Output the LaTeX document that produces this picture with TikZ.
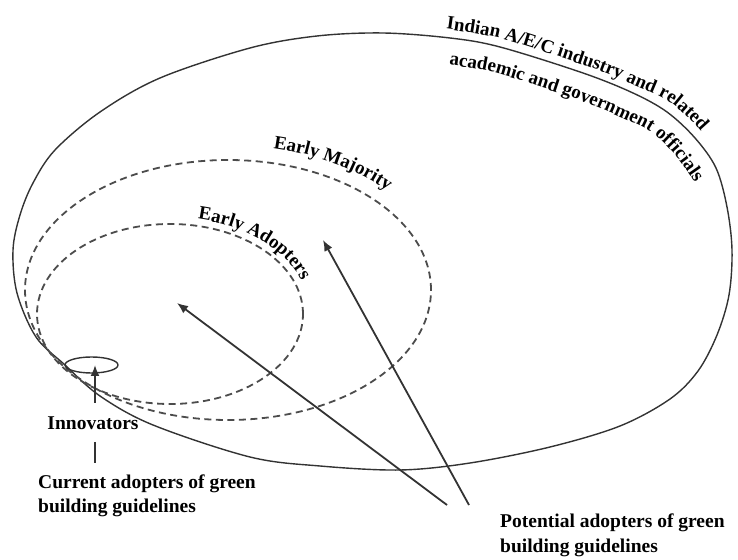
\documentclass[tikz,border=0pt]{standalone}
\usepackage{fontspec}
\setmainfont{Liberation Serif}
\usetikzlibrary{arrows.meta,shapes.geometric,decorations.text}
\begin{document}
\begin{tikzpicture}[x=1pt,y=1pt,
  solidline/.style={line width=1.4pt, draw=black!80},
  dashline/.style={line width=1.8pt, draw=black!70, dash pattern=on 7pt off 4.5pt},
  arrowline/.style={line width=1.8pt, draw=black!80, -{Latex[length=11pt,width=9pt]}},
  plainline/.style={line width=1.8pt, draw=black!80},
  lbl/.style={font=\fontsize{19.5}{24}\selectfont\bfseries, inner sep=0pt},
  curvetext/.style={decorate, decoration={text along path, text={|\fontsize{19}{19}\selectfont\bfseries|#1}}},
  ]
\useasboundingbox (0,0) rectangle (738,559);

% outer population boundary
\draw[solidline] plot[smooth cycle, tension=0.55] coordinates {
  (13,309) (20,344) (33,376) (55,409) (100,447) (160,481) (250,511) (317,523)
  (383,526) (450,521) (500,512) (583,486) (633,466) (667,447) (695,421)
  (716,391) (727,352) (732,309) (729,264) (717,224) (698,188) (670,160)
  (620,133) (550,112) (470,96) (400,89) (320,93) (250,102) (153,134)
  (100,163) (65,194) (36,222) (17,266)};

% Early Majority and Early Adopters
\draw[dashline] (228,269) ellipse [x radius=203pt, y radius=130pt];
\draw[dashline] (170,245) ellipse [x radius=133pt, y radius=90pt];

% Innovators
\node[ellipse, solidline, minimum width=53pt, minimum height=16pt, inner sep=0pt] (innell) at (91.5,194) {};

% curved labels
\path[curvetext={Indian A/E/C industry and related}] plot[smooth] coordinates {
  (446,530) (502,520) (586,493) (636,473) (671,456) (706,421) (740,365)};
\path[curvetext={academic and government officials}] plot[smooth] coordinates {
  (449,494) (495,486) (573,461) (622,441) (652,426) (679,399) (708,352) (711,299)};
\path[curvetext={Early Majority}] (228,269) ++(78:218pt and 145pt)
  arc[start angle=78, end angle=5, x radius=218pt, y radius=145pt];
\path[curvetext={Early Adopters}] (170,245) ++(78.5:140pt and 97pt)
  arc[start angle=78.5, end angle=-5, x radius=140pt, y radius=97pt];

% text labels
\node[lbl, anchor=base] (innov) at (93,129) {Innovators};
\node[lbl, anchor=base west] (cur1) at (38,70) {Current adopters of green};
\node[lbl, anchor=base west] (cur2) at (38,46) {building guidelines};
\node[lbl, anchor=base west] (pot1) at (500,31) {Potential adopters of green};
\node[lbl, anchor=base west] (pot2) at (500,7) {building guidelines};

% connectors
\coordinate (innTip) at (95,194);
\coordinate (innTail) at (95,156);
\draw[arrowline] (innTail) -- (innTip);
\coordinate (lnTop) at (95,117);
\coordinate (lnBot) at (95,96);
\draw[plainline] (lnTop) -- (lnBot);

\coordinate (eaTip) at (177,256);
\coordinate (emTip) at (323,319);
\coordinate (tailA) at (447,54);
\coordinate (tailB) at (469,54);
\draw[arrowline] (tailA) -- (eaTip);
\draw[arrowline] (tailB) -- (emTip);
\end{tikzpicture}
\end{document}
